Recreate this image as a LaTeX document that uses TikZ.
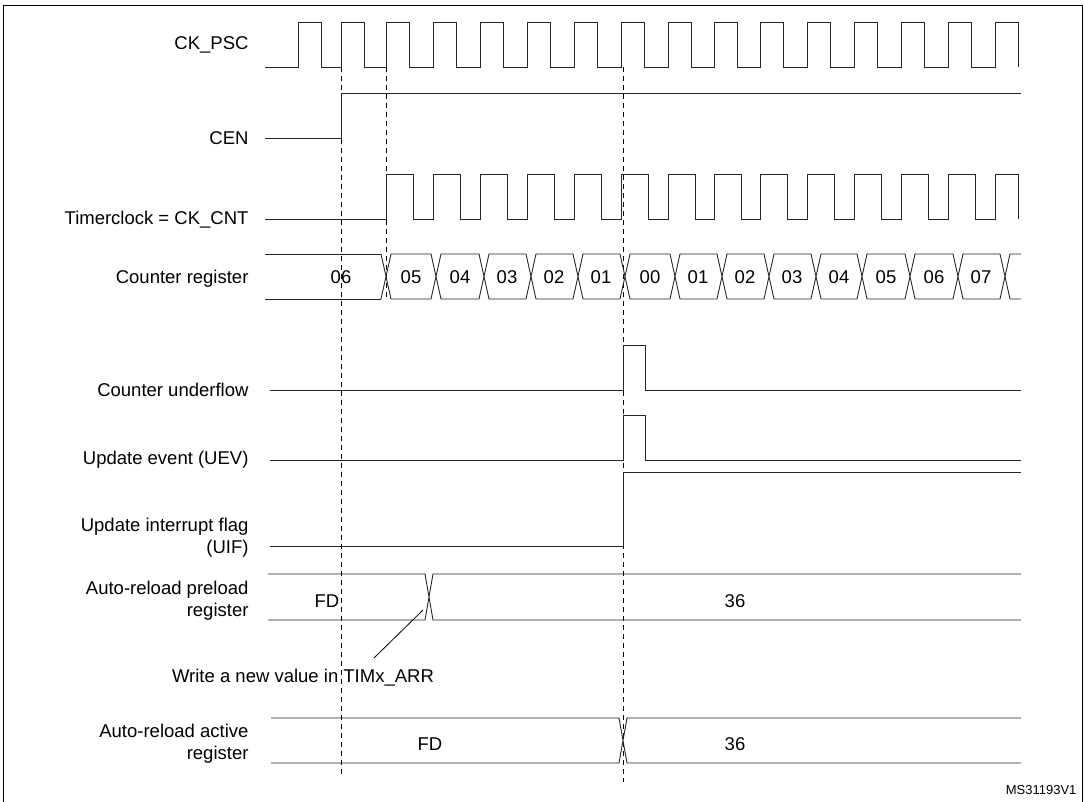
\documentclass[tikz,border=0pt]{standalone}
\usepackage{fontspec}
\setmainfont{Liberation Sans}
\begin{document}
\begin{tikzpicture}[x=1pt,y=-1pt,
  sig/.style={line width=0.9pt,black!85},
  dashln/.style={line width=0.9pt,dash pattern=on 5pt off 4pt},
  lbl/.style={anchor=east,font=\fontsize{18.5}{22}\selectfont,align=right},
  val/.style={font=\fontsize{18.5}{22}\selectfont}]
\useasboundingbox (0,0) rectangle (1085,802);
\draw[line width=1pt] (3,6) rectangle (1082,802);
% labels
\node[lbl] (l1) at (252,45) {CK\_PSC};
\node[lbl] (l2) at (252,138) {CEN};
\node[lbl] (l3) at (252,220) {Timerclock = CK\_CNT};
\node[lbl] (l4) at (252,279) {Counter register};
\node[lbl] (l5) at (252,390) {Counter underflow};
\node[lbl] (l6) at (252,460) {Update event (UEV)};
\node[lbl] (l7) at (252,538) {Update interrupt flag\\(UIF)};
\node[lbl] (l8) at (252,601) {Auto-reload preload\\register};
\node[lbl] (l9) at (252,744) {Auto-reload active\\register};
\node[anchor=east,font=\fontsize{13}{15}\selectfont] (ms) at (1080,790) {MS31193V1};
% dashed lines
\draw[dashln] (341,67) -- (341,777);
\draw[dashln] (386,67) -- (386,300);
\draw[dashln] (623,67) -- (623,782);
% CK_PSC
\draw[sig] (265,67)
  \foreach \r in {298,341,386,433,480,527,574,621,668,714,760,807,854,901,948,995}
  { -- (\r,67) -- (\r,22) -- (\r+23,22) -- (\r+23,67) };
% CEN
\draw[sig] (265,138) -- (341,138) -- (341,93) -- (1021,93);
% CK_CNT
\draw[sig] (265,219)
  \foreach \r in {386,433,480,527,574,621,668,714,760,807,854,901,948}
  { -- (\r,219) -- (\r,174) -- (\r+27,174) -- (\r+27,219) }
  -- (995,219) -- (995,174) -- (1018,174) -- (1018,219);
% Counter register bus
\def\ct{254}\def\cb{299}
\draw[sig] (265,\ct) -- (381,\ct) (265,\cb) -- (381,\cb);
\foreach \c/\n in {386/436,436/484,484/531,531/578,578/625,625/675,675/722,722/769,769/816,816/862,862/910,910/958,958/1005}{
  \draw[sig] (\c-5,\ct) -- (\c+5,\cb) (\c-5,\cb) -- (\c+5,\ct)
             (\c+5,\ct) -- (\n-5,\ct) (\c+5,\cb) -- (\n-5,\cb);
}
\draw[sig] (1000,\ct) -- (1010,\cb) (1000,\cb) -- (1010,\ct)
           (1010,\ct) -- (1021,\ct) (1010,\cb) -- (1021,\cb);
\foreach \x/\t in {341/06,411/05,460/04,507/03,554/02,601/01,650/00,698/01,745/02,792/03,839/04,886/05,934/06,981/07}
  \node[val] at (\x,277) {\t};
% Counter underflow
\draw[sig] (270,390) -- (623,390) -- (623,345) -- (645,345) -- (645,390) -- (1021,390);
% UEV
\draw[sig] (270,460) -- (623,460) -- (623,415) -- (645,415) -- (645,460) -- (1021,460);
% UIF
\draw[sig] (270,546) -- (623,546) -- (623,472) -- (1021,472);
% Auto-reload preload
\draw[sig] (268,574) -- (425,574) -- (433,620) -- (1021,620)
           (268,620) -- (425,620) -- (433,574) -- (1021,574);
\node[val] (fd1) at (327,601) {FD};
\node[val] (v1) at (735,601) {36};
\node[val] (wr) at (303,678) {Write a new value in TIMx\_ARR};
\coordinate (ap) at (423,610);
\coordinate (as) at (374,658);
\draw[line width=0.8pt] (as) -- (ap);
% Auto-reload active
\draw[sig] (271,718) -- (619,718) -- (627,763) -- (1021,763)
           (271,763) -- (619,763) -- (627,718) -- (1021,718);
\node[val] (fd2) at (430,744) {FD};
\node[val] (v2) at (735,744) {36};
\end{tikzpicture}
\end{document}
